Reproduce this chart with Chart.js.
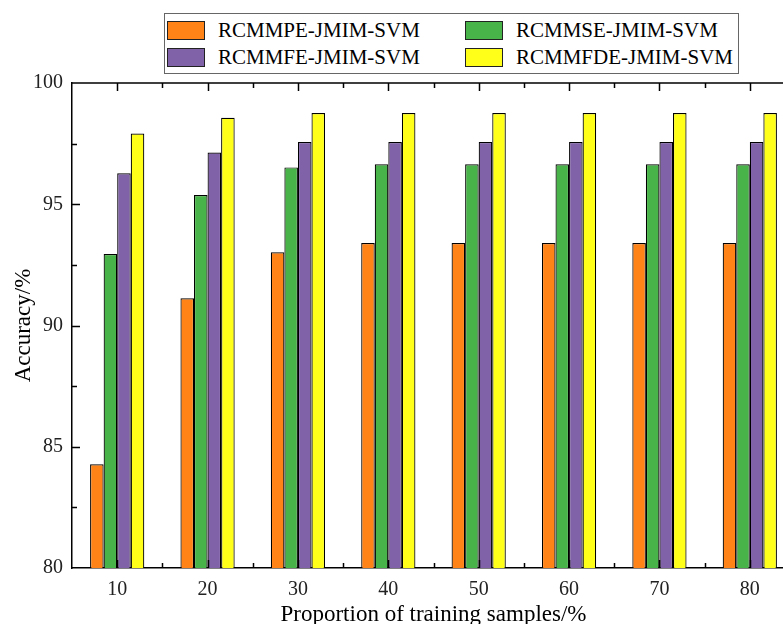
<!DOCTYPE html>
<html>
<head>
<meta charset="utf-8">
<script src="https://cdn.jsdelivr.net/npm/chart.js@4"></script>
<style>
  html, body { margin: 0; padding: 0; background: #fff; }
  #wrap { position: relative; width: 783px; height: 624px; overflow: hidden; }
  #box { position: absolute; left: 0; top: 0; width: 810px; height: 630px; }
  #legend {
    position: absolute; left: 164px; top: 13px; width: 573px; height: 59px;
    border: 1px solid #666; background: #fff;
    font-family: "Liberation Serif", serif; font-size: 21px; color: #000;
  }
  .item { position: absolute; height: 24px; line-height: 24px; white-space: nowrap; }
  .sw { position: absolute; left: 0; top: 3px; width: 36px; height: 17px; border: 1px solid #222; }
  .lbl { position: absolute; left: 51px; top: 0; }
</style>
</head>
<body>
<div id="wrap">
  <div id="box"><canvas id="chart" width="810" height="630"></canvas></div>
  <div id="legend"></div>
</div>
<script>
const categories = ['10', '20', '30', '40', '50', '60', '70', '80'];
const rcmmpe  = [84.28, 91.12, 93.02, 93.40, 93.40, 93.40, 93.40, 93.40];
const rcmmse  = [92.95, 95.38, 96.52, 96.65, 96.65, 96.65, 96.65, 96.65];
const rcmmfe  = [96.28, 97.13, 97.57, 97.57, 97.57, 97.57, 97.57, 97.57];
const rcmmfde = [97.92, 98.57, 98.76, 98.76, 98.76, 98.76, 98.76, 98.76];
const seriesNames = ['RCMMPE-JMIM-SVM', 'RCMMSE-JMIM-SVM', 'RCMMFE-JMIM-SVM', 'RCMMFDE-JMIM-SVM'];
const colors = ['#FF8317', '#48B348', '#8062A9', '#FFFF1A'];
const yTicks = [80, 85, 90, 95, 100];
const yMinor = [82.5, 87.5, 92.5, 97.5];

const serif = '"Liberation Serif", "Times New Roman", serif';

// inward tick marks plus the top frame line
const innerTicks = {
    id: 'innerTicks',
    afterDatasetsDraw(chart) {
        const { ctx, chartArea: a, scales: { x, y } } = chart;
        ctx.save();
        ctx.strokeStyle = '#000';
        ctx.lineWidth = 1.5;
        ctx.beginPath();
        ctx.moveTo(a.left, a.top);
        ctx.lineTo(a.right, a.top);
        categories.forEach((c, i) => {
            const px = Math.round(x.getPixelForValue(i)) + 0.5;
            ctx.moveTo(px, a.bottom); ctx.lineTo(px, a.bottom - 8);
            ctx.moveTo(px, a.top); ctx.lineTo(px, a.top + 8);
            const bx = Math.round(x.getPixelForValue(i + 0.5)) + 0.5;
            ctx.moveTo(bx, a.bottom); ctx.lineTo(bx, a.bottom - 5);
            ctx.moveTo(bx, a.top); ctx.lineTo(bx, a.top + 5);
        });
        yTicks.slice(1, -1).forEach(v => {
            const py = Math.round(y.getPixelForValue(v)) + 0.5;
            ctx.moveTo(a.left, py); ctx.lineTo(a.left + 8, py);
        });
        yMinor.forEach(v => {
            const py = Math.round(y.getPixelForValue(v)) + 0.5;
            ctx.moveTo(a.left, py); ctx.lineTo(a.left + 5, py);
        });
        ctx.stroke();
        ctx.restore();
    }
};

const datasets = [rcmmpe, rcmmse, rcmmfe, rcmmfde].map((d, i) => ({
    label: seriesNames[i],
    data: d,
    backgroundColor: colors[i],
    borderColor: '#000',
    borderWidth: 1.2,
    categoryPercentage: 0.6,
    barPercentage: 1.0
}));

new Chart(document.getElementById('chart'), {
    type: 'bar',
    data: { labels: categories, datasets: datasets },
    options: {
        responsive: false,
        animation: false,
        layout: { padding: { top: 83, right: 15, left: 0, bottom: 0 } },
        plugins: { legend: { display: false }, tooltip: { enabled: false } },
        scales: {
            x: {
                grid: { display: false, drawTicks: false },
                border: { color: '#000', width: 1.5 },
                ticks: { color: '#222', font: { family: serif, size: 20 }, padding: 10 },
                title: {
                    display: true, text: 'Proportion of training samples/%', color: '#000',
                    font: { family: serif, size: 23 }, padding: { top: 0, bottom: 1 }
                },
                afterFit(scale) { scale.height = 62; }
            },
            y: {
                min: 80, max: 100,
                afterBuildTicks(scale) { scale.ticks = yTicks.map(v => ({ value: v })); },
                grid: { display: false, drawTicks: false },
                border: { color: '#000', width: 1.5 },
                ticks: { color: '#222', font: { family: serif, size: 20 }, padding: 9 },
                title: {
                    display: true, text: 'Accuracy/%', color: '#000',
                    font: { family: serif, size: 23 }, padding: { top: 10, bottom: 0 }
                },
                afterFit(scale) { scale.width = 72; }
            }
        }
    },
    plugins: [innerTicks]
});

// two-column legend box
const legend = document.getElementById('legend');
const spots = [[2, 4], [300, 4], [2, 31], [300, 31]];
seriesNames.forEach((name, i) => {
    const item = document.createElement('div');
    item.className = 'item';
    item.style.left = spots[i][0] + 'px';
    item.style.top = spots[i][1] + 'px';
    item.innerHTML = '<span class="sw" style="background:' + colors[i] + '"></span><span class="lbl">' + name + '</span>';
    legend.appendChild(item);
});
</script>
</body>
</html>
